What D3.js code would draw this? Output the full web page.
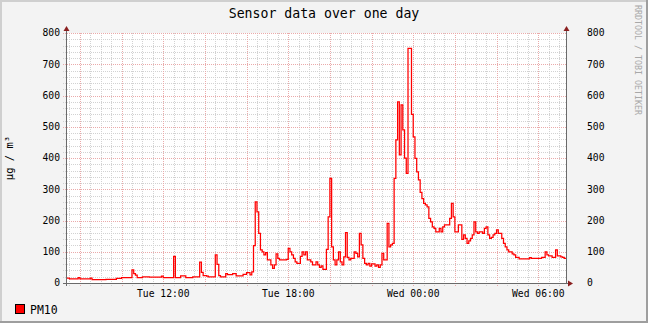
<!DOCTYPE html>
<html>
<head>
<meta charset="utf-8">
<script src="https://cdn.jsdelivr.net/npm/d3@7"></script>
<style>
  body { margin: 0; background: #f3f3f3; }
  svg { display: block; font-family: "DejaVu Sans Mono", monospace; }
</style>
</head>
<body>
<div id="chart"></div>
<script>
// --- Data ---
const chartTitle = "Sensor data over one day";
const unitLabel = "µg / m³";
const seriesName = "PM10";
const watermark = "RRDTOOL / TOBI OETIKER";
const startTime = new Date(2024, 0, 2, 7, 20); // a Tuesday morning
const stepMinutes = 5;
const yTicks = [0, 100, 200, 300, 400, 500, 600, 700, 800];

// PM10, one value per 5 minutes (12 per row = one hour)
const pm10 = [
  16, 16, 13, 13, 13, 13, 13, 17, 13, 13, 13, 13,
  13, 13, 16, 11, 11, 11, 11, 11, 11, 11, 11, 12,
  12, 12, 12, 12, 12, 15, 15, 15, 17, 17, 17, 17,
  17, 17, 42, 30, 25, 17, 17, 17, 20, 20, 20, 20,
  19, 19, 19, 19, 19, 19, 19, 22, 17, 17, 17, 17,
  17, 17, 85, 17, 17, 17, 23, 23, 23, 17, 17, 17,
  17, 20, 20, 20, 20, 67, 34, 24, 24, 22, 20, 20,
  20, 20, 90, 60, 24, 20, 20, 20, 30, 27, 27, 27,
  30, 30, 23, 23, 23, 23, 28, 28, 33, 33, 26, 36,
  120, 260, 228, 159, 106, 100, 90, 97, 74, 74, 58, 47,
  58, 93, 79, 74, 74, 74, 74, 76, 111, 100, 90, 79,
  68, 63, 63, 85, 100, 90, 100, 74, 74, 68, 58, 58,
  68, 58, 50, 55, 44, 44, 108, 212, 335, 116, 74, 58,
  74, 100, 68, 58, 84, 161, 82, 74, 79, 79, 100, 95,
  84, 159, 122, 79, 63, 58, 63, 54, 61, 61, 54, 58,
  50, 58, 95, 74, 74, 191, 116, 122, 127, 335, 458, 580,
  410, 570, 490, 400, 351, 751, 751, 540, 468, 399, 356, 330,
  290, 270, 255, 250, 244, 207, 196, 180, 175, 164, 164, 175,
  164, 180, 186, 186, 186, 207, 255, 212, 164, 164, 186, 186,
  140, 154, 143, 127, 135, 143, 154, 196, 164, 159, 164, 164,
  159, 175, 180, 154, 143, 146, 154, 159, 170, 159, 159, 143,
  127, 116, 106, 100, 100, 93, 90, 82, 82, 77, 77, 77,
  77, 77, 77, 81, 79, 79, 79, 79, 79, 79, 82, 82,
  100, 90, 87, 87, 82, 82, 106, 87, 87, 84, 82, 79
];

// --- Layout ---
const width = 648, height = 323;
const plot = { left: 66, right: 566, top: 33, bottom: 283 };
const endTime = d3.timeHour.offset(startTime, 24);

const svg = d3.select("#chart").append("svg")
  .attr("width", width)
  .attr("height", height);

// background + shaded frame
svg.append("rect").attr("width", width).attr("height", height).attr("fill", "#f3f3f3");
svg.append("path").attr("d", `M0,${height} V0 H${width}`)
  .attr("fill", "none").attr("stroke", "#cfcfcf").attr("stroke-width", 4);
svg.append("path").attr("d", `M0,${height} H${width} V0`)
  .attr("fill", "none").attr("stroke", "#9e9e9e").attr("stroke-width", 4);

// canvas
svg.append("rect")
  .attr("x", plot.left).attr("y", plot.top)
  .attr("width", plot.right - plot.left).attr("height", plot.bottom - plot.top)
  .attr("fill", "#fff");

const x = d3.scaleTime().domain([startTime, endTime]).range([plot.left, plot.right]);
const y = d3.scaleLinear().domain([0, 800]).range([plot.bottom, plot.top]);
const px = (v) => Math.round(v) + 0.5;

// --- Grid ---
const grid = svg.append("g").attr("stroke-dasharray", "1,1").attr("stroke-width", 1);
const minorColor = "#d2d2d2", majorColor = "#eaaaaa";

const minorTimes = d3.timeMinute.every(30).range(startTime, endTime);
const majorTimes = d3.timeHour.every(2).range(startTime, endTime);
const isMajorT = (t) => t.getMinutes() === 0 && t.getHours() % 2 === 0;

grid.selectAll(".vminor").data(minorTimes.filter((t) => !isMajorT(t)))
  .join("line").attr("class", "vminor")
  .attr("x1", (d) => px(x(d))).attr("x2", (d) => px(x(d)))
  .attr("y1", plot.top).attr("y2", plot.bottom + 3)
  .attr("stroke", minorColor);

const yMinor = d3.range(0, 801, 20).filter((v) => v % 100 !== 0);
grid.selectAll(".hminor").data(yMinor)
  .join("line").attr("class", "hminor")
  .attr("x1", plot.left - 3).attr("x2", plot.right)
  .attr("y1", (d) => px(y(d))).attr("y2", (d) => px(y(d)))
  .attr("stroke", minorColor);

grid.selectAll(".vmajor").data(majorTimes)
  .join("line").attr("class", "vmajor")
  .attr("x1", (d) => px(x(d))).attr("x2", (d) => px(x(d)))
  .attr("y1", plot.top).attr("y2", plot.bottom + 3)
  .attr("stroke", majorColor);

grid.selectAll(".hmajor").data(yTicks.filter((v) => v > 0))
  .join("line").attr("class", "hmajor")
  .attr("x1", plot.left - 3).attr("x2", plot.right)
  .attr("y1", (d) => px(y(d))).attr("y2", (d) => px(y(d)))
  .attr("stroke", majorColor);

// --- Data line ---
const points = pm10.map((v, i) => ({ t: d3.timeMinute.offset(startTime, i * stepMinutes), v }));
points.push({ t: endTime, v: pm10[pm10.length - 1] });

svg.append("path")
  .datum(points)
  .attr("fill", "none")
  .attr("stroke", "#ff0000")
  .attr("stroke-width", 1.25)
  .attr("d", d3.line().x((d) => x(d.t)).y((d) => y(d.v)).curve(d3.curveStepAfter));

// --- Axes ---
const axisColor = "#6a6a6a", arrowColor = "#8a1f1f";
const ax = svg.append("g").attr("stroke", axisColor).attr("stroke-width", 1);
ax.append("line").attr("x1", plot.left + 0.5).attr("x2", plot.left + 0.5).attr("y1", plot.bottom + 3).attr("y2", plot.top - 3);
ax.append("line").attr("x1", plot.right + 0.5).attr("x2", plot.right + 0.5).attr("y1", plot.bottom).attr("y2", plot.top - 3);
ax.append("line").attr("x1", plot.left - 3).attr("x2", plot.right + 4).attr("y1", plot.bottom + 0.5).attr("y2", plot.bottom + 0.5);

const arrows = svg.append("g").attr("fill", arrowColor);
[plot.left + 0.5, plot.right + 0.5].forEach((ax0) => {
  arrows.append("path").attr("d", `M${ax0 - 3},${plot.top - 2} L${ax0 + 3},${plot.top - 2} L${ax0},${plot.top - 7} Z`);
});
arrows.append("path").attr("d", `M${plot.right + 2},${plot.bottom - 2.5} L${plot.right + 2},${plot.bottom + 3.5} L${plot.right + 7},${plot.bottom + 0.5} Z`);

// tick labels
const labels = svg.append("g").attr("font-size", "9.7px").attr("fill", "#000");
labels.selectAll(".yl").data(yTicks).join("text").attr("class", "yl")
  .attr("x", 60).attr("y", (d) => y(d)).attr("dy", "0.35em")
  .attr("text-anchor", "end").text((d) => d);
labels.selectAll(".yr").data(yTicks).join("text").attr("class", "yr")
  .attr("x", 587).attr("y", (d) => y(d)).attr("dy", "0.35em")
  .attr("text-anchor", "start").text((d) => d);

const fmt = d3.timeFormat("%a %H:%M");
labels.selectAll(".xl").data(x.ticks(d3.timeHour.every(6))).join("text").attr("class", "xl")
  .attr("x", (d) => x(d)).attr("y", 296.5)
  .attr("text-anchor", "middle").text((d) => fmt(d));

// title
svg.append("text").attr("x", width / 2).attr("y", 18)
  .attr("text-anchor", "middle").attr("font-size", "13.2px").text(chartTitle);

// unit label
svg.append("text").attr("transform", `translate(13,158) rotate(-90)`)
  .attr("text-anchor", "middle").attr("font-size", "10.5px").text(unitLabel);

// watermark
svg.append("text").attr("transform", `translate(635,5) rotate(90)`)
  .attr("font-size", "8.3px").attr("fill", "#a8a8a8").text(watermark);

// legend
svg.append("rect").attr("x", 15.5).attr("y", 304.5).attr("width", 9).attr("height", 9)
  .attr("fill", "#ff0000").attr("stroke", "#000");
svg.append("text").attr("x", 30).attr("y", 313.5).attr("font-size", "11.5px").text(seriesName);
</script>
</body>
</html>
